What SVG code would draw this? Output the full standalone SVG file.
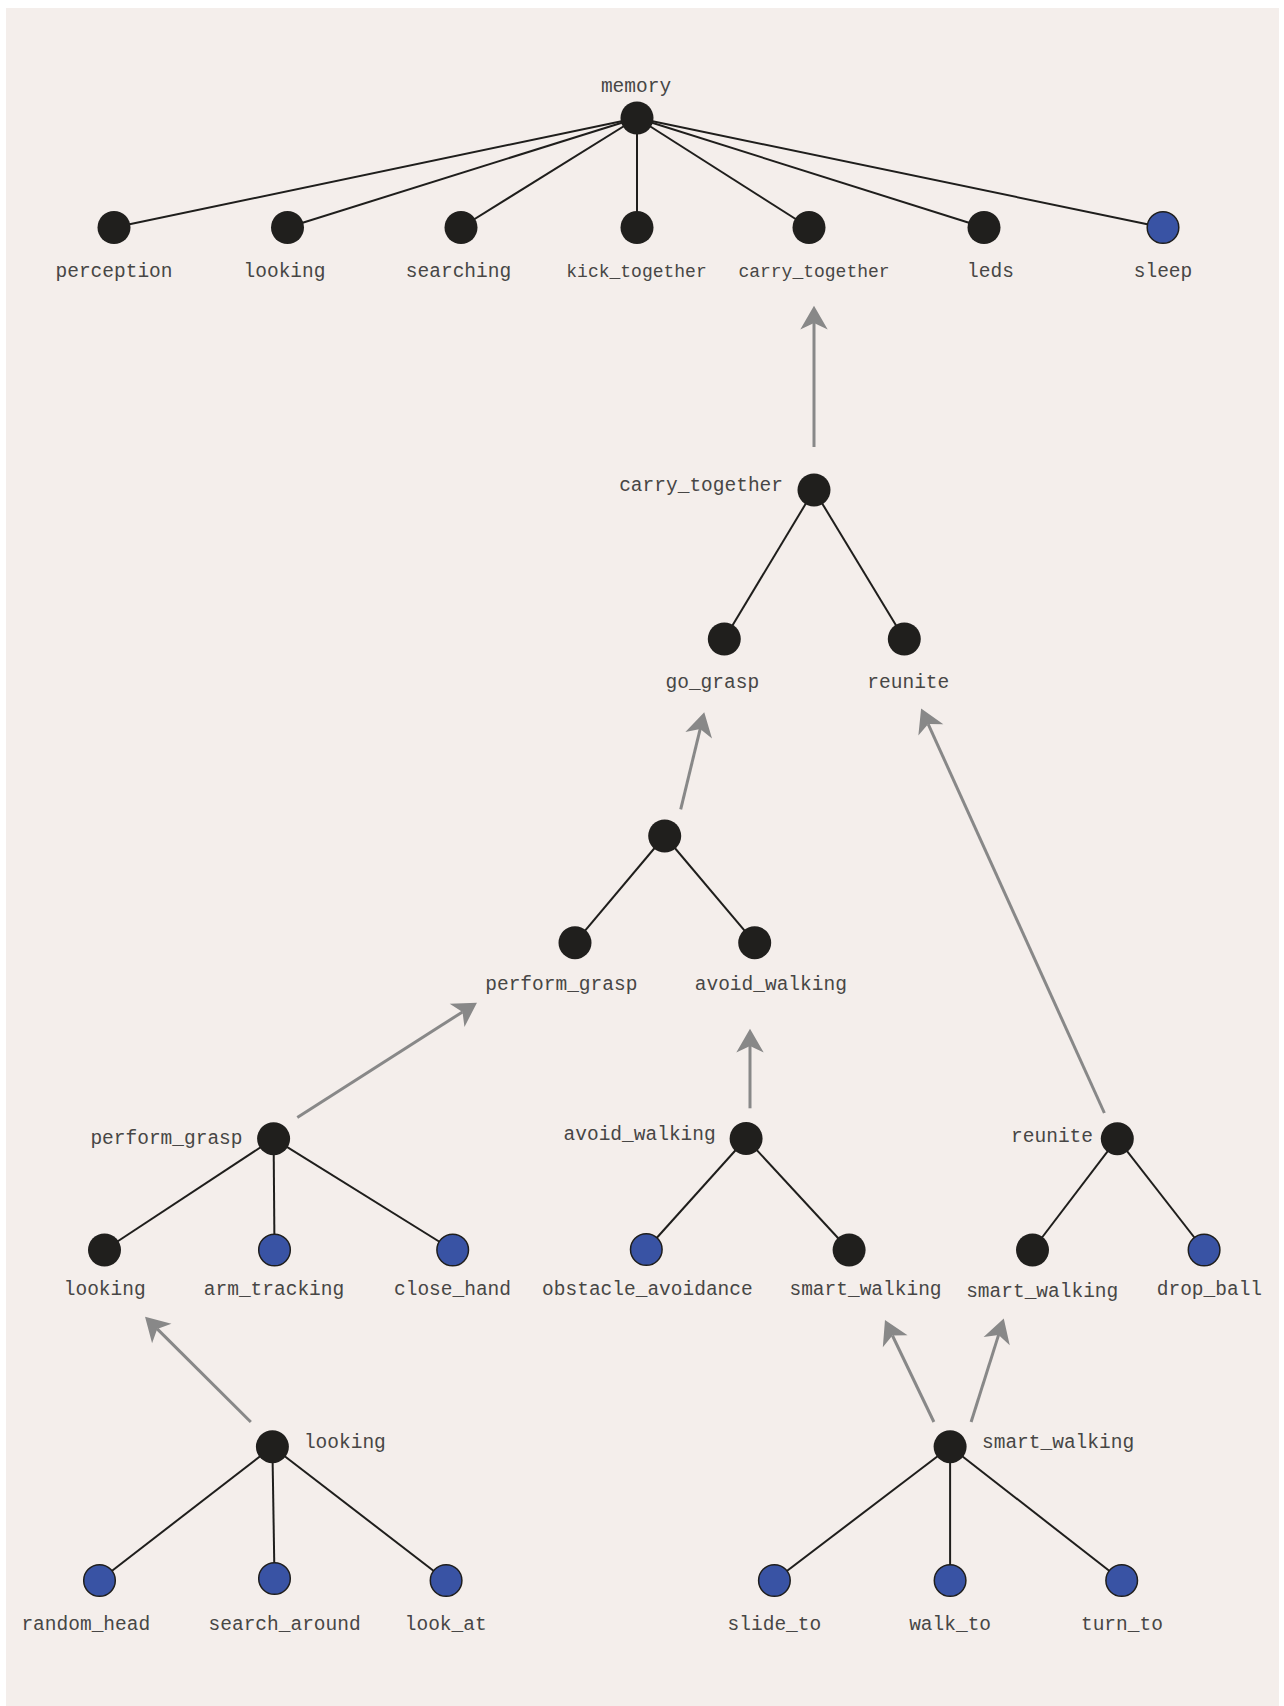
<svg xmlns="http://www.w3.org/2000/svg" width="1284" height="1706" viewBox="0 0 1284 1706">
<style>
.bg{fill:#f4eeeb}
.e{stroke:#1f1e1c;stroke-width:2;fill:none}
.a{stroke:#888888;stroke-width:3;fill:none}
.n{fill:#201f1d}
.b{fill:#3953a4;stroke:#1f1e1c;stroke-width:1.5}
text{font-family:"Liberation Mono","Courier New",monospace;font-size:19.5px;fill:#474645}
.m{text-anchor:middle}
.r{text-anchor:end}
.s{font-size:18px}
</style>
<defs>
<marker id="arr" markerUnits="userSpaceOnUse" markerWidth="30" markerHeight="30" viewBox="-8 -14 26 28" refX="0" refY="0" orient="auto">
<path d="M16,0 L-6,-12.8 L0,0 L-6,12.8 Z" fill="#888888"/>
</marker>
</defs>
<rect x="0" y="0" width="1284" height="1706" fill="#ffffff"/>
<rect class="bg" x="6" y="8" width="1273" height="1698"/>
<g id="connectors">
<line class="e" x1="637" y1="118" x2="114" y2="227.5"/>
<line class="e" x1="637" y1="118" x2="287.5" y2="227.5"/>
<line class="e" x1="637" y1="118" x2="461" y2="227.5"/>
<line class="e" x1="637" y1="118" x2="637" y2="227.5"/>
<line class="e" x1="637" y1="118" x2="809" y2="227.5"/>
<line class="e" x1="637" y1="118" x2="984" y2="227.5"/>
<line class="e" x1="637" y1="118" x2="1163" y2="227.5"/>
<line class="e" x1="814" y1="490" x2="724.3" y2="639"/>
<line class="e" x1="814" y1="490" x2="904.3" y2="639"/>
<line class="e" x1="664.7" y1="836" x2="575" y2="942.7"/>
<line class="e" x1="664.7" y1="836" x2="754.7" y2="942.7"/>
<line class="e" x1="273.6" y1="1138.7" x2="104.5" y2="1250"/>
<line class="e" x1="273.6" y1="1138.7" x2="274.5" y2="1250"/>
<line class="e" x1="273.6" y1="1138.7" x2="452.7" y2="1250"/>
<line class="e" x1="746.1" y1="1138.5" x2="646.3" y2="1249.5"/>
<line class="e" x1="746.1" y1="1138.5" x2="849.1" y2="1250"/>
<line class="e" x1="1117.3" y1="1138.7" x2="1032.5" y2="1250"/>
<line class="e" x1="1117.3" y1="1138.7" x2="1204.1" y2="1250"/>
<line class="e" x1="272.4" y1="1446.7" x2="99.5" y2="1580.5"/>
<line class="e" x1="272.4" y1="1446.7" x2="274.5" y2="1578.5"/>
<line class="e" x1="272.4" y1="1446.7" x2="446.1" y2="1580.5"/>
<line class="e" x1="950.1" y1="1446.7" x2="774.4" y2="1580.5"/>
<line class="e" x1="950.1" y1="1446.7" x2="950.1" y2="1580.5"/>
<line class="e" x1="950.1" y1="1446.7" x2="1121.7" y2="1580.5"/>
<line class="a" x1="814" y1="447" x2="814" y2="323" marker-end="url(#arr)"/>
<line class="a" x1="680.7" y1="809.3" x2="700.2" y2="728.9" marker-end="url(#arr)"/>
<line class="a" x1="297.3" y1="1117.4" x2="462.5" y2="1011.9" marker-end="url(#arr)"/>
<line class="a" x1="750" y1="1108.3" x2="750" y2="1046" marker-end="url(#arr)"/>
<line class="a" x1="1104.4" y1="1113" x2="928.2" y2="724.1" marker-end="url(#arr)"/>
<line class="a" x1="250.8" y1="1422" x2="157.2" y2="1328.9" marker-end="url(#arr)"/>
<line class="a" x1="933.9" y1="1422" x2="892.4" y2="1335.5" marker-end="url(#arr)"/>
<line class="a" x1="971.1" y1="1422" x2="998.6" y2="1334.9" marker-end="url(#arr)"/>
</g>
<g id="memory"><circle class="n" cx="637" cy="118" r="16.5"/><text class="m" x="636" y="92">memory</text></g>
<g id="m_perception"><circle class="n" cx="114" cy="227.5" r="16.5"/><text class="m" x="114" y="277">perception</text></g>
<g id="m_looking"><circle class="n" cx="287.5" cy="227.5" r="16.5"/><text class="m" x="284.5" y="277">looking</text></g>
<g id="m_searching"><circle class="n" cx="461" cy="227.5" r="16.5"/><text class="m" x="458.5" y="277">searching</text></g>
<g id="m_kick_together"><circle class="n" cx="637" cy="227.5" r="16.5"/><text class="m s" x="636.5" y="277">kick_together</text></g>
<g id="m_carry_together"><circle class="n" cx="809" cy="227.5" r="16.5"/><text class="m s" x="814" y="277">carry_together</text></g>
<g id="m_leds"><circle class="n" cx="984" cy="227.5" r="16.5"/><text class="m" x="990.5" y="277">leds</text></g>
<g id="m_sleep"><circle class="b" cx="1163" cy="227.5" r="15.8"/><text class="m" x="1163" y="277">sleep</text></g>
<g id="carry_together"><circle class="n" cx="814" cy="490" r="16.5"/><text class="r" x="783" y="491">carry_together</text></g>
<g id="c_go_grasp"><circle class="n" cx="724.3" cy="639" r="16.5"/><text class="m" x="712.3" y="688">go_grasp</text></g>
<g id="c_reunite"><circle class="n" cx="904.3" cy="639" r="16.5"/><text class="m" x="908.3" y="688">reunite</text></g>
<g id="go_grasp"><circle class="n" cx="664.7" cy="836" r="16.5"/></g>
<g id="g_perform_grasp"><circle class="n" cx="575" cy="942.7" r="16.5"/><text class="m" x="561.3" y="990">perform_grasp</text></g>
<g id="g_avoid_walking"><circle class="n" cx="754.7" cy="942.7" r="16.5"/><text class="m" x="770.8" y="990">avoid_walking</text></g>
<g id="perform_grasp"><circle class="n" cx="273.6" cy="1138.7" r="16.5"/><text class="r" x="242.5" y="1143.5">perform_grasp</text></g>
<g id="p_looking"><circle class="n" cx="104.5" cy="1250" r="16.5"/><text class="m" x="104.7" y="1295">looking</text></g>
<g id="p_arm_tracking"><circle class="b" cx="274.5" cy="1250" r="15.8"/><text class="m" x="274" y="1295">arm_tracking</text></g>
<g id="p_close_hand"><circle class="b" cx="452.7" cy="1250" r="15.8"/><text class="m" x="452.5" y="1295">close_hand</text></g>
<g id="avoid_walking"><circle class="n" cx="746.1" cy="1138.5" r="16.5"/><text class="r" x="715.7" y="1140">avoid_walking</text></g>
<g id="a_obstacle_avoidance"><circle class="b" cx="646.3" cy="1249.5" r="15.8"/><text class="m" x="647.4" y="1295">obstacle_avoidance</text></g>
<g id="a_smart_walking"><circle class="n" cx="849.1" cy="1250" r="16.5"/><text class="m" x="865.5" y="1295">smart_walking</text></g>
<g id="reunite"><circle class="n" cx="1117.3" cy="1138.7" r="16.5"/><text class="r" x="1093" y="1142">reunite</text></g>
<g id="r_smart_walking"><circle class="n" cx="1032.5" cy="1250" r="16.5"/><text class="m" x="1042.2" y="1296.5">smart_walking</text></g>
<g id="r_drop_ball"><circle class="b" cx="1204.1" cy="1250" r="15.8"/><text class="m" x="1209.4" y="1295">drop_ball</text></g>
<g id="looking"><circle class="n" cx="272.4" cy="1446.7" r="16.5"/><text x="303.9" y="1447.5">looking</text></g>
<g id="l_random_head"><circle class="b" cx="99.5" cy="1580.5" r="15.8"/><text class="m" x="85.8" y="1629.6">random_head</text></g>
<g id="l_search_around"><circle class="b" cx="274.5" cy="1578.5" r="15.8"/><text class="m" x="284.6" y="1629.6">search_around</text></g>
<g id="l_look_at"><circle class="b" cx="446.1" cy="1580.5" r="15.8"/><text class="m" x="445.7" y="1629.6">look_at</text></g>
<g id="smart_walking"><circle class="n" cx="950.1" cy="1446.7" r="16.5"/><text x="982" y="1447.5">smart_walking</text></g>
<g id="s_slide_to"><circle class="b" cx="774.4" cy="1580.5" r="15.8"/><text class="m" x="774.4" y="1629.6">slide_to</text></g>
<g id="s_walk_to"><circle class="b" cx="950.1" cy="1580.5" r="15.8"/><text class="m" x="950.1" y="1629.6">walk_to</text></g>
<g id="s_turn_to"><circle class="b" cx="1121.7" cy="1580.5" r="15.8"/><text class="m" x="1121.9" y="1629.6">turn_to</text></g>
</svg>
